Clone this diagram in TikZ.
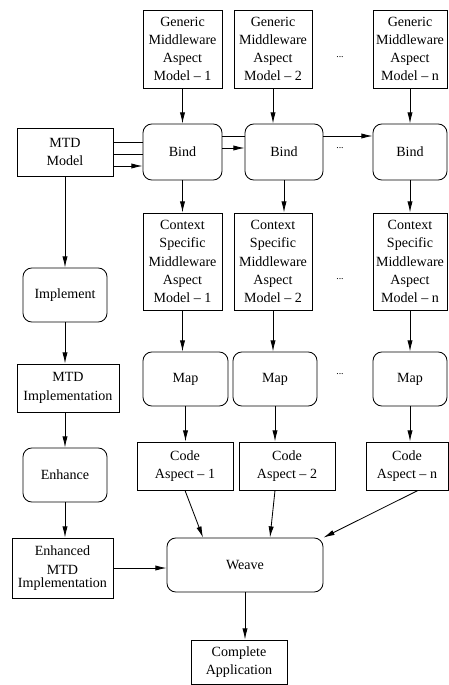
\documentclass[tikz,border=0pt]{standalone}
\usepackage{fontspec}
\setmainfont{Liberation Serif}
\usetikzlibrary{arrows.meta}

\begin{document}
\begin{tikzpicture}[
    font=\fontsize{10}{13}\selectfont,
    line width=0.6pt,
    >={Latex[length=2.8mm,width=1.3mm]},
    box/.style={draw, align=center, inner sep=1pt},
    rbox/.style={box, rounded corners=0.22cm},
    dots/.style={font=\scriptsize, inner sep=0pt}
]
    \useasboundingbox (0,0) rectangle (11.2,-17.125);
    \node[box, minimum width=1.975cm, minimum height=1.95cm] (G1) at (4.5625,-1.225)
        {Generic\\Middleware\\Aspect\\Model -- 1};
    \node[box, minimum width=1.95cm, minimum height=1.95cm] (G2) at (6.825,-1.225)
        {Generic\\Middleware\\Aspect\\Model -- 2};
    \node[box, minimum width=1.85cm, minimum height=1.95cm] (Gn) at (10.25,-1.225)
        {Generic\\Middleware\\Aspect\\Model -- n};
    \node[dots] (D1) at (8.5,-1.42) {...};
    \node[box, minimum width=2.4cm, minimum height=1.2cm] (MTD) at (1.625,-3.8)
        {MTD\\Model};
    \node[rbox, minimum width=1.975cm, minimum height=1.4cm] (B1) at (4.5625,-3.8) {Bind};
    \node[rbox, minimum width=1.95cm, minimum height=1.4cm] (B2) at (7.1,-3.8) {Bind};
    \node[rbox, minimum width=1.85cm, minimum height=1.4cm] (Bn) at (10.25,-3.8) {Bind};
    \node[dots] (D2) at (8.5,-3.7) {...};
    \node[box, minimum width=1.975cm, minimum height=2.425cm] (C1) at (4.5625,-6.5375)
        {Context\\Specific\\Middleware\\Aspect\\Model -- 1};
    \node[box, minimum width=1.95cm, minimum height=2.425cm] (C2) at (6.825,-6.5375)
        {Context\\Specific\\Middleware\\Aspect\\Model -- 2};
    \node[box, minimum width=1.85cm, minimum height=2.425cm] (Cn) at (10.25,-6.5375)
        {Context\\Specific\\Middleware\\Aspect\\Model -- n};
    \node[dots] (D3) at (8.5,-6.97) {...};
    \node[rbox, minimum width=2.1cm, minimum height=1.35cm] (Impl) at (1.625,-7.375) {Implement};
    \node[rbox, minimum width=2.125cm, minimum height=1.35cm] (M1) at (4.6375,-9.475) {Map};
    \node[rbox, minimum width=2.1cm, minimum height=1.35cm] (M2) at (6.875,-9.475) {Map};
    \node[rbox, minimum width=1.85cm, minimum height=1.35cm] (Mn) at (10.25,-9.475) {Map};
    \node[dots] (D4) at (8.5,-9.35) {...};
    \node[box, minimum width=2.55cm, minimum height=1.2cm] (MTDI) at (1.7,-9.7)
        {MTD\\Implementation};
    \node[rbox, minimum width=2.1cm, minimum height=1.35cm] (Enh) at (1.625,-11.875) {Enhance};
    \node[box, minimum width=2.4cm, minimum height=1.2cm] (CA1) at (4.625,-11.65)
        {Code\\Aspect -- 1};
    \node[box, minimum width=2.4cm, minimum height=1.2cm] (CA2) at (7.175,-11.65)
        {Code\\Aspect -- 2};
    \node[box, minimum width=2.05cm, minimum height=1.2cm] (CAn) at (10.175,-11.65)
        {Code\\Aspect -- n};
    \node[box, minimum width=2.525cm, minimum height=1.5cm] (EMTDI) at (1.5625,-14.2)
        {Enhanced\\[0.5pt]MTD\\[-4pt]Implementation};
    \node[rbox, minimum width=3.9cm, minimum height=1.35cm] (W) at (6.125,-14.125) {Weave};
    \node[box, minimum width=2.4cm, minimum height=1.1cm] (App) at (5.975,-16.55)
        {Complete\\Application};

    % model to the bind steps
    \draw[->] ([yshift=-3.5mm]MTD.east) -- ([yshift=-3.5mm]B1.west);
    \draw ([yshift=-0.5mm]MTD.east) -- ([yshift=-0.5mm]B1.west);
    \draw ([yshift=2.5mm]MTD.east) -- ([yshift=2.5mm]B1.west);
    \draw[->] ([yshift=1mm]B1.east) -- ([yshift=1mm]B2.west);
    \draw ([yshift=4mm]B1.east) -- ([yshift=4mm]B2.west);
    \draw[->] ([yshift=4mm]B2.east) -- ([yshift=4mm]Bn.west);

    % columns
    \foreach \c in {1,2,n} {
        \draw[->] (G\c.south) -- (G\c.south |- B\c.north);
        \draw[->] (B\c.south) -- (B\c.south |- C\c.north);
        \draw[->] (C\c.south) -- (C\c.south |- M\c.north);
        \draw[->] (M\c.south) -- (M\c.south |- CA\c.north);
    }

    % left column
    \draw[->] (MTD.south) -- (MTD.south |- Impl.north);
    \draw[->] (Impl.south) -- (Impl.south |- MTDI.north);
    \draw[->] (Impl.south |- MTDI.south) -- (Impl.south |- Enh.north);
    \draw[->] (Enh.south) -- (Enh.south |- EMTDI.north);

    % weaving
    \draw[->] (EMTDI.east) -- (EMTDI.east -| W.west);
    \draw[->] (CA1.south) -- ([xshift=-10.5mm]W.north);
    \draw[->] ([xshift=-3mm]CA2.south) -- ([xshift=6.25mm]W.north);
    \draw[->] ([xshift=2.75mm]CAn.south) -- (W.north east);
    \draw[->] (W.south) -- (W.south |- App.north);
\end{tikzpicture}
\end{document}
